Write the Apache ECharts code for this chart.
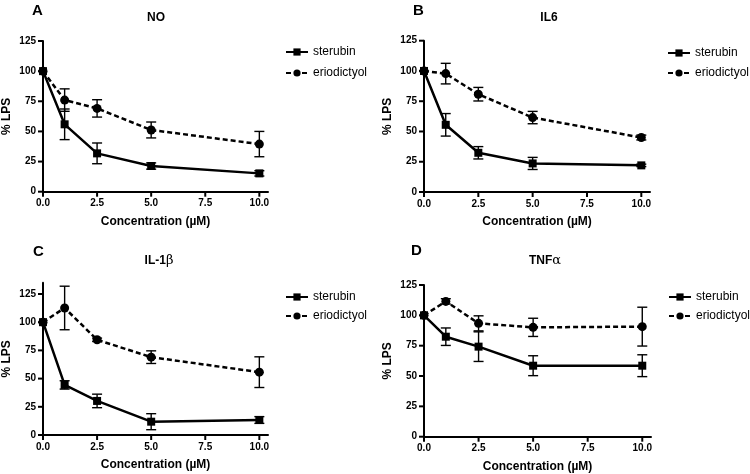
<!DOCTYPE html>
<html>
<head>
<meta charset="utf-8">
<script src="https://cdn.jsdelivr.net/npm/echarts@6/dist/echarts.min.js"></script>
<style>html,body{margin:0;padding:0;background:#fff}#c{width:750px;height:474px}</style>
</head>
<body>
<div id="c"></div>
<script>
// ---- data ----
const conc = [0, 1, 2.5, 5, 10];
const xTicks = [0, 2.5, 5, 7.5, 10];
const yTicks = [0, 25, 50, 75, 100, 125];
const seriesNames = ['sterubin', 'eriodictyol'];
const panelLetters = ['A', 'B', 'C', 'D'];
const panelTitles = ['NO', 'IL6', 'IL-1β', 'TNFα'];

const noSterubin = [100, 55.9, 31.8, 21.3, 15.2];
const noSterubinErr = [0, 12.7, 8.6, 2.6, 2.2];
const noErio = [100, 76, 69.1, 51.2, 39.5];
const noErioErr = [0, 9.3, 7.2, 6.6, 10.5];

const il6Sterubin = [100, 55.5, 32.4, 23.6, 22];
const il6SterubinErr = [0, 9.3, 5.1, 5, 1];
const il6Erio = [100, 97.8, 80.8, 61.5, 45];
const il6ErioErr = [0, 8.5, 5.6, 5.1, 2];

const il1bSterubin = [100, 44.4, 30.2, 11.8, 13.3];
const il1bSterubinErr = [0, 3.7, 6, 7.1, 3];
const il1bErio = [100, 112.6, 84.4, 69, 55.7];
const il1bErioErr = [0, 19.3, 1.5, 5.6, 13.6];

const tnfSterubin = [100, 82.4, 74.2, 58.5, 58.5];
const tnfSterubinErr = [0, 7.2, 12.2, 8.2, 9];
const tnfErio = [100, 111.5, 93.4, 90.1, 90.7];
const tnfErioErr = [0, 2.2, 6.2, 7.5, 16];

const panelData = [
  [noSterubin, noSterubinErr, noErio, noErioErr],
  [il6Sterubin, il6SterubinErr, il6Erio, il6ErioErr],
  [il1bSterubin, il1bSterubinErr, il1bErio, il1bErioErr],
  [tnfSterubin, tnfSterubinErr, tnfErio, tnfErioErr]
];
const yMax = [125, 125, 135, 125];

// ---- layout ----
const grids = [
  {left: 41, top: 41, width: 227, height: 150.7},
  {left: 424, top: 40.7, width: 226, height: 151.3},
  {left: 42, top: 282.7, width: 226, height: 152.3},
  {left: 424, top: 285, width: 227, height: 151.7}
];
const letterPos = [[32, 3], [413, 3], [33, 244], [411, 243]];
const titlePos = [[156, 17.5], [549, 17.5], [159, 261], [545, 261]];
const legendPos = [[285, 46], [667, 47], [285, 291], [668, 291]];
const legendGap = [9, 8, 7, 7];

const FONT = 'Liberation Sans, Arial, sans-serif';
const chart = echarts.init(document.getElementById('c'), null, {renderer: 'canvas'});

const xAxes = [], yAxes = [], series = [], legends = [], graphics = [];
const TICK_LEN = 5;

function errRender(params, api) {
  const x = api.value(0), y = api.value(1), e = api.value(2);
  if (!e) return null;
  const t = api.coord([x, y + e]), b = api.coord([x, y - e]);
  const hw = 5;
  const st = {stroke: '#000', lineWidth: 1.4};
  return {type: 'group', children: [
    {type: 'line', shape: {x1: t[0], y1: t[1], x2: b[0], y2: b[1]}, style: st},
    {type: 'line', shape: {x1: t[0] - hw, y1: t[1], x2: t[0] + hw, y2: t[1]}, style: st},
    {type: 'line', shape: {x1: b[0] - hw, y1: b[1], x2: b[0] + hw, y2: b[1]}, style: st}
  ]};
}
// axis ticks drawn through the axis scales: item [x, y, dir] dir 0 = x tick, 1 = y tick
function tickRender(params, api) {
  const p = api.coord([api.value(0), api.value(1)]);
  const st = {stroke: '#000', lineWidth: 2};
  if (api.value(2) === 0) {
    return {type: 'line', shape: {x1: p[0], y1: p[1], x2: p[0], y2: p[1] + TICK_LEN}, style: st};
  }
  return {type: 'line', shape: {x1: p[0] - TICK_LEN, y1: p[1], x2: p[0], y2: p[1]}, style: st};
}

panelData.forEach((pd, i) => {
  xAxes.push({
    gridIndex: i, type: 'value', min: 0, max: 10.4,
    name: 'Concentration (µM)', nameLocation: 'middle', nameGap: 24,
    nameTextStyle: {fontFamily: FONT, fontWeight: 'bold', fontSize: 12, color: '#000'},
    axisLine: {show: true, onZero: false, lineStyle: {color: '#000', width: 2}},
    axisTick: {show: false},
    axisLabel: {customValues: xTicks, formatter: v => v.toFixed(1), margin: 7,
      fontFamily: FONT, fontWeight: 'bold', fontSize: 10, color: '#000'},
    splitLine: {show: false}
  });
  yAxes.push({
    gridIndex: i, type: 'value', min: 0, max: yMax[i],
    name: '% LPS', nameLocation: 'middle', nameGap: 30, nameRotate: 90,
    nameTextStyle: {fontFamily: FONT, fontWeight: 'bold', fontSize: 12, color: '#000'},
    axisLine: {show: true, onZero: false, lineStyle: {color: '#000', width: 2}},
    axisTick: {show: false},
    axisLabel: {customValues: yTicks, margin: 7,
      fontFamily: FONT, fontWeight: 'bold', fontSize: 10, color: '#000'},
    splitLine: {show: false}
  });
  const [sm, se, em, ee] = pd;
  series.push({
    type: 'custom', xAxisIndex: i, yAxisIndex: i, clip: false,
    data: xTicks.map(v => [v, 0, 0]).concat(yTicks.map(v => [0, v, 1])),
    encode: {x: 0, y: 1}, renderItem: tickRender, z: 6, animation: false, silent: true
  });
  series.push({
    name: seriesNames[1], type: 'line', xAxisIndex: i, yAxisIndex: i,
    data: conc.map((x, k) => [x, em[k]]),
    symbol: 'circle', symbolSize: 9, color: '#000',
    lineStyle: {color: '#000', width: 2.5, type: [5, 3]},
    itemStyle: {color: '#000'}, z: 3, animation: false
  });
  series.push({
    name: seriesNames[0], type: 'line', xAxisIndex: i, yAxisIndex: i,
    data: conc.map((x, k) => [x, sm[k]]),
    symbol: 'rect', symbolSize: 8, color: '#000',
    lineStyle: {color: '#000', width: 2.5},
    itemStyle: {color: '#000'}, z: 4, animation: false
  });
  series.push({
    type: 'custom', xAxisIndex: i, yAxisIndex: i,
    data: conc.map((x, k) => [x, sm[k], se[k]]),
    encode: {x: 0, y: 1}, renderItem: errRender, z: 5, animation: false, silent: true
  });
  series.push({
    type: 'custom', xAxisIndex: i, yAxisIndex: i,
    data: conc.map((x, k) => [x, em[k], ee[k]]),
    encode: {x: 0, y: 1}, renderItem: errRender, z: 5, animation: false, silent: true
  });
  legends.push({
    data: seriesNames, orient: 'vertical', left: legendPos[i][0], top: legendPos[i][1],
    padding: 0, itemWidth: 22, itemHeight: 9, itemGap: legendGap[i],
    textStyle: {fontFamily: FONT, fontSize: 12, color: '#000'},
    selectedMode: false
  });
  graphics.push({
    type: 'text', x: letterPos[i][0], y: letterPos[i][1],
    style: {text: panelLetters[i], font: 'bold 15px ' + FONT, fill: '#000'}
  });
  const t = panelTitles[i];
  let richText, rich = {
    b: {fontFamily: FONT, fontWeight: 'bold', fontSize: 12, fill: '#000', color: '#000'},
    g: {fontFamily: 'DejaVu Serif, Liberation Serif, serif', fontSize: 13, fill: '#000', color: '#000'}
  };
  const last = t.slice(-1);
  if (last === 'β' || last === 'α') richText = '{b|' + t.slice(0, -1) + '}{g|' + last + '}';
  else richText = '{b|' + t + '}';
  graphics.push({
    type: 'text', x: titlePos[i][0], y: titlePos[i][1],
    style: {text: richText, rich: rich, align: 'center', verticalAlign: 'middle',
      textAlign: 'center', textVerticalAlign: 'middle', fill: '#000'}
  });
});

chart.setOption({
  backgroundColor: '#fff',
  animation: false,
  grid: grids,
  xAxis: xAxes,
  yAxis: yAxes,
  legend: legends,
  series: series,
  graphic: graphics
});
</script>
</body>
</html>
